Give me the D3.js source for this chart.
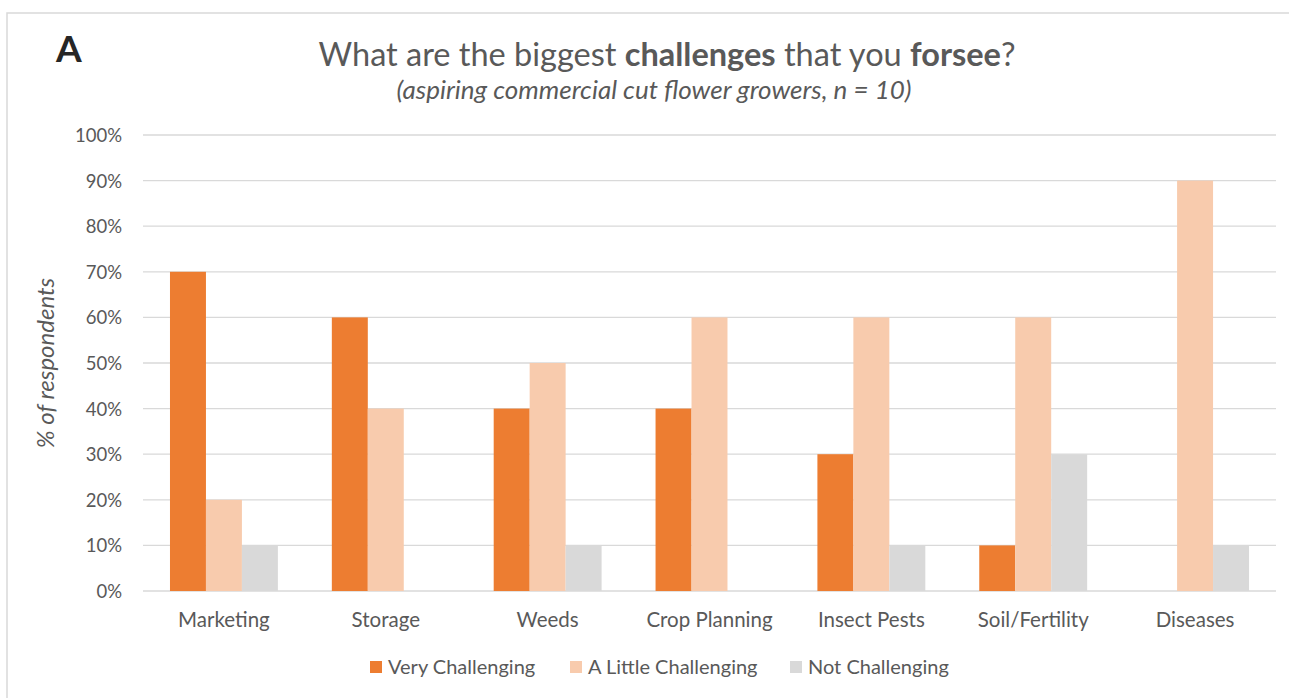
<!DOCTYPE html>
<html><head><meta charset="utf-8">
<script src="https://cdn.jsdelivr.net/npm/d3@7"></script>
<style>body{margin:0;background:#fff}svg{display:block}</style>
</head><body><svg id="c" width="1289" height="698"></svg>
<script>
const categories = ["Marketing","Storage","Weeds","Crop Planning","Insect Pests","Soil/Fertility","Diseases"];
const seriesNames = ["Very Challenging","A Little Challenging","Not Challenging"];
const veryChallenging = [70,60,40,40,30,10,0];
const littleChallenging = [20,40,50,60,60,60,90];
const notChallenging = [10,0,10,0,10,30,10];
const yTicks = [0,10,20,30,40,50,60,70,80,90,100];
const colors = ["#ED7D31","#F8CBAD","#D9D9D9"];
const series = [veryChallenging, littleChallenging, notChallenging];

const svg = d3.select("#c");
const font = "Lato, 'Open Sans', sans-serif";
const txt = "#595959";

svg.append("rect").attr("x",7).attr("y",13).attr("width",1300).attr("height",700)
  .attr("fill","none").attr("stroke","#d9d9d9").attr("stroke-width",1.5);

const x0 = d3.scaleBand().domain(categories).range([143,1276]).paddingInner(1.5/4.5).paddingOuter(0.75/4.5);
const x1 = d3.scaleBand().domain(d3.range(3)).range([0,x0.bandwidth()]);
const y = d3.scaleLinear().domain([0,100]).range([591,135]);

svg.append("g").selectAll("line").data(yTicks).join("line")
  .attr("x1",143).attr("x2",1276).attr("y1",d=>y(d)).attr("y2",d=>y(d))
  .attr("stroke","#d9d9d9").attr("stroke-width",1.3);

const yAxis = d3.axisLeft(y).tickValues(yTicks).tickFormat(d=>d+"%").tickSize(0).tickPadding(0);
const ga = svg.append("g").attr("transform","translate(122,0)").call(yAxis);
ga.select(".domain").remove();
ga.selectAll("text").attr("font-family",font).attr("font-size",18.5).attr("fill",txt).attr("dy","0.35em");

const groups = svg.append("g").selectAll("g").data(categories).join("g")
  .attr("transform",d=>`translate(${x0(d)},0)`);
groups.selectAll("rect").data((d,i)=>series.map((s,k)=>({k,v:s[i]}))).join("rect")
  .attr("x",d=>x1(d.k)).attr("width",x1.bandwidth())
  .attr("y",d=>y(d.v)).attr("height",d=>y(0)-y(d.v))
  .attr("fill",d=>colors[d.k]);

const xAxis = d3.axisBottom(x0).tickSize(0).tickPadding(0);
const gx = svg.append("g").attr("transform","translate(0,612)").call(xAxis);
gx.select(".domain").remove();
gx.selectAll("text").attr("font-family",font).attr("font-size",20.5).attr("fill",txt).attr("dy","0.71em");

svg.append("text").attr("transform","translate(54,363) rotate(-90)").attr("text-anchor","middle")
  .attr("font-family",font).attr("font-size",24).attr("font-style","italic").attr("fill",txt)
  .text("% of respondents");

svg.append("text").attr("x",56).attr("y",62).attr("font-family",font).attr("font-weight","bold")
  .attr("font-size",37).attr("fill","#262626").text("A");

const t = svg.append("text").attr("x",667).attr("y",66).attr("text-anchor","middle")
  .attr("font-family",font).attr("font-size",32.5).attr("fill",txt);
t.append("tspan").text("What are the biggest ");
t.append("tspan").attr("font-weight","bold").text("challenges");
t.append("tspan").text(" that you ");
t.append("tspan").attr("font-weight","bold").text("forsee");
t.append("tspan").text("?");
svg.append("text").attr("x",654).attr("y",99).attr("text-anchor","middle")
  .attr("font-family",font).attr("font-size",26).attr("font-style","italic").attr("fill",txt)
  .text("(aspiring commercial cut flower growers, n = 10)");

const legX = [370,570,790];
const lg = svg.append("g").selectAll("g").data(seriesNames).join("g")
  .attr("transform",(d,i)=>`translate(${legX[i]},661)`);
lg.append("rect").attr("width",12).attr("height",12).attr("fill",(d,i)=>colors[i]);
lg.append("text").attr("x",18).attr("y",6).attr("dy","0.35em").attr("font-family",font)
  .attr("font-size",20).attr("fill",txt).text(d=>d);
</script></body></html>
